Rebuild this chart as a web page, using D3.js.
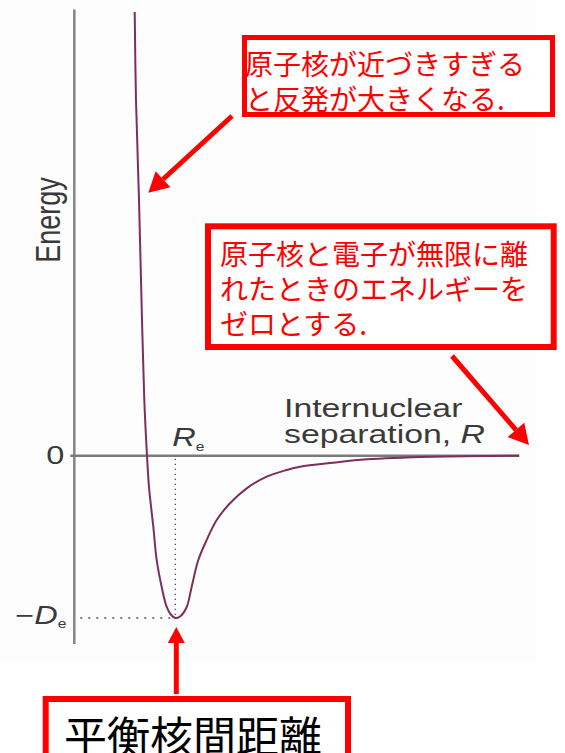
<!DOCTYPE html>
<html>
<head>
<meta charset="utf-8">
<script src="https://cdn.jsdelivr.net/npm/d3@7"></script>
<style>
  body { margin: 0; background: #fff; }
  svg { display: block; }
</style>
</head>
<body>
<div id="graph"></div>
<script>
// potential energy curve (R in arbitrary units, E in units of De)
var rValues = [0.604, 0.617, 0.647, 0.672, 0.700, 0.727, 0.747, 0.790, 0.824, 0.874, 0.924, 0.967,
               1.010, 1.057, 1.124, 1.174, 1.240, 1.324, 1.424, 1.557, 1.724, 1.924, 2.124, 2.257,
               2.587, 2.924, 3.587, 4.447];
var energyValues = [2.734, 2.19, 1.576, 0.959, 0.343, 0.0, -0.193, -0.437, -0.643, -0.809, -0.932, -0.98,
                    -1.0, -0.991, -0.932, -0.807, -0.643, -0.519, -0.396, -0.293, -0.201, -0.129, -0.088, -0.068,
                    -0.043, -0.022, -0.006, 0.0];
var reValue = 1.01;     // equilibrium separation
var deValue = -1.0;     // well depth
var energyRange = [-1.16, 2.75];
var rRange = [-0.04, 4.45];

var notes1 = ["原子核が近づきすぎる", "と反発が大きくなる."];
var notes2 = ["原子核と電子が無限に離", "れたときのエネルギーを", "ゼロとする."];
var notes3 = "平衡核間距離";

var w = 565, h = 753;
var red = "#ff0000";
var latin = "'Liberation Sans', Arial, Helvetica, sans-serif";
var cjk = "'Noto Sans CJK JP', sans-serif";

var svg = d3.select("#graph")
            .append("svg")
            .attr("width", w)
            .attr("height", h);

svg.append("rect")
    .attr("width", 536).attr("height", 663)
    .style("fill", "#fdfdfd");

var x = d3.scaleLinear().domain([0, 4.45]).range([74.3, 519.3]);
var y = d3.scaleLinear().domain([-1, 0]).range([618, 455.7]);

// axes
svg.append("line")
    .attr("x1", x(0)).attr("x2", x(0))
    .attr("y1", y(energyRange[1])).attr("y2", y(energyRange[0]))
    .style("stroke", "#8a8a8a").style("stroke-width", 2.6);

svg.append("line")
    .attr("x1", x(rRange[0])).attr("x2", x(rRange[1]))
    .attr("y1", y(0)).attr("y2", y(0))
    .style("stroke", "#7a7a7a").style("stroke-width", 2.4);

// dotted guides for Re and -De
svg.append("line")
    .attr("x1", x(reValue)).attr("x2", x(reValue))
    .attr("y1", y(0) + 3).attr("y2", y(deValue))
    .style("stroke", "#555").style("stroke-width", 1.4)
    .style("stroke-dasharray", "1.4,3.6");

svg.append("line")
    .attr("x1", x(0) + 6).attr("x2", x(reValue) + 8)
    .attr("y1", y(deValue)).attr("y2", y(deValue))
    .style("stroke", "#555").style("stroke-width", 1.4)
    .style("stroke-dasharray", "2,6");

// the curve
var pts = rValues.map(function(r, i) { return [r, energyValues[i]]; });
var line = d3.line()
    .x(function(d) { return x(d[0]); })
    .y(function(d) { return y(d[1]); })
    .curve(d3.curveCatmullRom.alpha(0.5));

svg.append("path")
    .datum(pts)
    .attr("d", line)
    .style("fill", "none")
    .style("stroke", "#7d2f5c")
    .style("stroke-width", 2);

// axis labels (the figure is stretched a bit sideways)
function stretched(px, py, extra) {
    return "translate(" + px + "," + py + ") scale(1.3,1)" + (extra || "");
}

svg.append("text")
    .attr("transform", stretched(60, 220, " rotate(-90)"))
    .attr("text-anchor", "middle")
    .style("font-family", latin).style("font-size", "27px").style("fill", "#3a3a3a")
    .text("Energy");

svg.append("text")
    .attr("transform", stretched(x(0) - 10, y(0) + 8))
    .attr("text-anchor", "end")
    .style("font-family", latin).style("font-size", "25px").style("fill", "#3a3a3a")
    .text("0");

var de = svg.append("text")
    .attr("transform", stretched(x(0) - 8, y(deValue) + 6))
    .attr("text-anchor", "end")
    .style("font-family", latin).style("font-size", "25px").style("fill", "#3a3a3a");
de.append("tspan").text("\u2212");
de.append("tspan").style("font-style", "italic").text("D");
de.append("tspan").attr("dy", 4).style("font-size", "12px").text("e");

var re = svg.append("text")
    .attr("transform", stretched(x(reValue) - 3, y(0) - 10))
    .style("font-family", latin).style("font-size", "25px").style("fill", "#3a3a3a");
re.append("tspan").style("font-style", "italic").text("R");
re.append("tspan").attr("dy", 5).style("font-size", "12px").text("e");

svg.append("text")
    .attr("transform", stretched(284, 416.5))
    .style("font-family", latin).style("font-size", "26px").style("fill", "#3a3a3a")
    .text("Internuclear");

var sep = svg.append("text")
    .attr("transform", stretched(284, 443.3))
    .style("font-family", latin).style("font-size", "26px").style("fill", "#3a3a3a");
sep.append("tspan").text("separation, ");
sep.append("tspan").style("font-style", "italic").text("R");

// callout boxes
function box(bx, by, bw, bh, sw) {
    svg.append("rect")
        .attr("x", bx).attr("y", by).attr("width", bw).attr("height", bh)
        .style("fill", "#fff").style("stroke", red).style("stroke-width", sw);
}

function arrow(x1, y1, x2, y2, len, wid) {
    var a = Math.atan2(y2 - y1, x2 - x1);
    var bxp = x2 - len * Math.cos(a), byp = y2 - len * Math.sin(a);
    svg.append("line")
        .attr("x1", x1).attr("y1", y1).attr("x2", bxp).attr("y2", byp)
        .style("stroke", red).style("stroke-width", 5);
    var nx = -Math.sin(a) * wid / 2, ny = Math.cos(a) * wid / 2;
    svg.append("path")
        .attr("d", "M" + x2 + "," + y2 + "L" + (bxp + nx) + "," + (byp + ny) + "L" + (bxp - nx) + "," + (byp - ny) + "Z")
        .style("fill", red);
}

box(244.5, 37.5, 308, 77, 5);
notes1.forEach(function(t, i) {
    svg.append("text")
        .attr("x", 245).attr("y", 75 + i * 35)
        .style("font-family", cjk).style("font-size", "28px").style("fill", red)
        .text(t);
});

box(208, 226.3, 345.7, 120.7, 6);
notes2.forEach(function(t, i) {
    svg.append("text")
        .attr("x", 220).attr("y", 265 + i * 35)
        .style("font-family", cjk).style("font-size", "28px").style("fill", red)
        .text(t);
});

box(45.7, 699, 302.3, 100, 6);
svg.append("text")
    .attr("x", 64).attr("y", 753)
    .style("font-family", cjk).style("font-size", "43px").style("fill", "#000")
    .text(notes3);

arrow(232, 116, x(0.74), y(1.62), 20, 22);
arrow(452, 356, x(4.547), y(0.066), 20, 22);
arrow(x(reValue) + 1, 694, x(reValue) + 1, y(deValue) + 9, 16, 17);
</script>
</body>
</html>
